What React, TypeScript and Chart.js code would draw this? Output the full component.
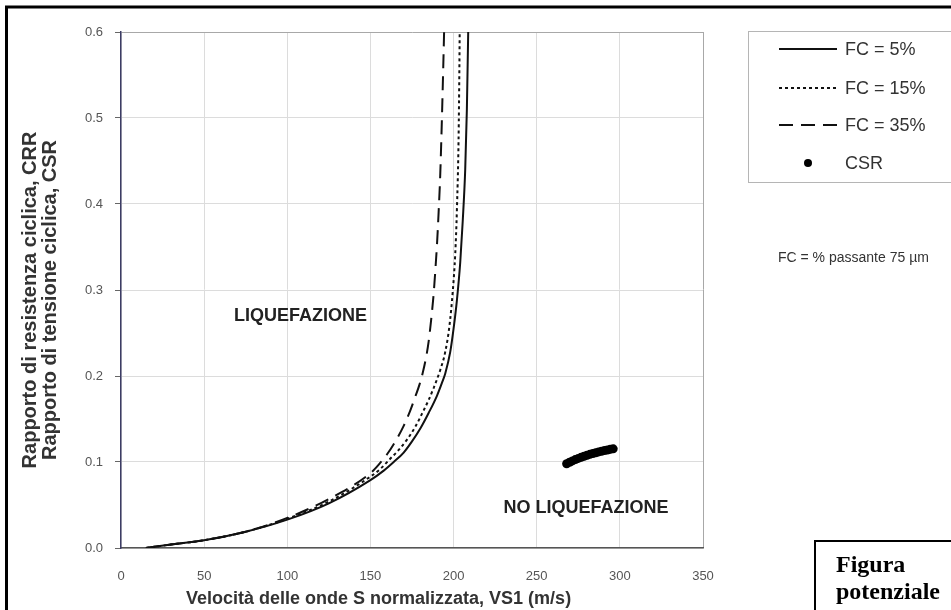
import { useEffect, useRef } from "react";
import { Chart, registerables } from "chart.js";

Chart.register(...registerables);

// ---- data ----
const vs1Fc5 = [15, 30, 50, 75, 100, 125, 150, 158, 164, 170, 175, 180, 185, 190, 193, 195, 198, 200, 202, 204, 205.5, 207, 208, 208.8, 209.1];
const crrFc5 = [0.0, 0.004, 0.009, 0.019, 0.033, 0.052, 0.079, 0.09, 0.1, 0.111, 0.124, 0.139, 0.157, 0.177, 0.192, 0.203, 0.228, 0.255, 0.288, 0.332, 0.38, 0.44, 0.51, 0.6, 0.63];

const vs1Fc15 = [15, 30, 50, 75, 100, 125, 150, 156, 162, 167, 172, 177, 182, 185, 188, 190, 192, 195, 197.5, 199.5, 201, 202, 203, 203.5, 203.8];
const crrFc15 = [0.0, 0.004, 0.009, 0.019, 0.034, 0.054, 0.083, 0.092, 0.104, 0.114, 0.126, 0.141, 0.16, 0.172, 0.186, 0.196, 0.207, 0.228, 0.258, 0.298, 0.342, 0.393, 0.475, 0.56, 0.63];

const vs1Fc35 = [15, 30, 50, 75, 100, 125, 150, 155, 160, 165, 170, 174, 177, 179.5, 181.5, 183.5, 185, 186.5, 188, 189, 190, 191, 192, 193, 193.8, 194.3, 194.6];
const crrFc35 = [0.0, 0.004, 0.009, 0.019, 0.035, 0.057, 0.087, 0.097, 0.109, 0.124, 0.142, 0.16, 0.176, 0.19, 0.204, 0.222, 0.24, 0.265, 0.295, 0.322, 0.352, 0.39, 0.435, 0.5, 0.56, 0.6, 0.63];

const vs1Csr = [268, 269.75, 271.5, 273.25, 275, 276.75, 278.5, 280.25, 282, 283.75, 285.5, 287.25, 289, 290.75, 292.5, 294.25, 296];
const csrValues = [0.098, 0.0997, 0.1013, 0.1028, 0.1042, 0.1055, 0.1067, 0.1078, 0.1089, 0.1099, 0.1108, 0.1117, 0.1125, 0.1133, 0.114, 0.1147, 0.1153];

const xTickValues = [0, 50, 100, 150, 200, 250, 300, 350];
const yTickValues = [0, 0.1, 0.2, 0.3, 0.4, 0.5, 0.6];

const legendLabels = ["FC = 5%", "FC = 15%", "FC = 35%", "CSR"];
const xTitle = "Velocità delle onde S normalizzata, VS1 (m/s)";
const yTitleLines = ["Rapporto di resistenza ciclica, CRR", "Rapporto di tensione ciclica, CSR"];
const noteText = "FC = % passante 75 \u00b5m";
const zoneLabels = ["LIQUEFAZIONE", "NO LIQUEFAZIONE"];
const zoneAt = [
  [108, 0.27],
  [279.6, 0.046],
];
const figureLines = ["Figura", "potenziale"];

const SANS = '"Liberation Sans", Arial, sans-serif';
const SERIF = '"Liberation Serif", "Times New Roman", serif';

const zip = (xs: number[], ys: number[]) => xs.map((x, i) => ({ x, y: ys[i] }));

const DASH_DOT = [3, 3];
const DASH_LONG = [14, 8];

const decorPlugin = {
  id: "decor",
  afterDraw(chart: any) {
    const { ctx } = chart;
    const xs = chart.scales.x;
    const ys = chart.scales.y;
    ctx.save();

    // outer document frame
    ctx.strokeStyle = "#000";
    ctx.lineWidth = 3;
    ctx.setLineDash([]);
    ctx.beginPath();
    ctx.moveTo(6.5, 610);
    ctx.lineTo(6.5, 7);
    ctx.lineTo(951, 7);
    ctx.stroke();

    // figure caption box
    ctx.lineWidth = 2;
    ctx.beginPath();
    ctx.moveTo(951, 541);
    ctx.lineTo(815, 541);
    ctx.lineTo(815, 610);
    ctx.stroke();
    ctx.fillStyle = "#000";
    ctx.font = `bold 24px ${SERIF}`;
    ctx.textAlign = "left";
    ctx.textBaseline = "alphabetic";
    ctx.fillText(figureLines[0], 836, 572);
    ctx.fillText(figureLines[1], 836, 599);

    // legend box
    ctx.strokeStyle = "#b5b5b5";
    ctx.lineWidth = 1;
    ctx.strokeRect(748.5, 31.5, 260, 151);

    const rowY = [49, 88, 125, 163];
    const dashes = [[], DASH_DOT, DASH_LONG];
    ctx.strokeStyle = "#111";
    ctx.lineWidth = 2;
    for (let i = 0; i < 3; i++) {
      ctx.setLineDash(dashes[i]);
      ctx.beginPath();
      ctx.moveTo(779, rowY[i]);
      ctx.lineTo(837, rowY[i]);
      ctx.stroke();
    }
    ctx.setLineDash([]);
    ctx.fillStyle = "#000";
    ctx.beginPath();
    ctx.arc(808, 163, 4, 0, Math.PI * 2);
    ctx.fill();

    ctx.fillStyle = "#333";
    ctx.font = `18px ${SANS}`;
    ctx.textBaseline = "middle";
    for (let i = 0; i < 4; i++) {
      ctx.fillText(legendLabels[i], 845, rowY[i] + 1);
    }

    // note
    ctx.font = `14px ${SANS}`;
    ctx.textBaseline = "alphabetic";
    ctx.fillText(noteText, 778, 262);

    // zone labels
    ctx.fillStyle = "#222";
    ctx.font = `bold 18px ${SANS}`;
    ctx.textAlign = "center";
    ctx.textBaseline = "middle";
    for (let i = 0; i < zoneLabels.length; i++) {
      ctx.fillText(zoneLabels[i], xs.getPixelForValue(zoneAt[i][0]), ys.getPixelForValue(zoneAt[i][1]));
    }

    // axis titles
    ctx.fillStyle = "#333";
    ctx.font = `bold 18px ${SANS}`;
    ctx.textAlign = "left";
    ctx.textBaseline = "alphabetic";
    ctx.fillText(xTitle, 186, 604);

    ctx.font = `bold 20px ${SANS}`;
    ctx.textAlign = "center";
    ctx.textBaseline = "middle";
    const cy = 300;
    const titleX = [30, 50];
    for (let i = 0; i < 2; i++) {
      ctx.save();
      ctx.translate(titleX[i], cy);
      ctx.rotate(-Math.PI / 2);
      ctx.fillText(yTitleLines[i], 0, 0);
      ctx.restore();
    }

    ctx.restore();
  },
};

export default function App() {
  const canvasRef = useRef<HTMLCanvasElement | null>(null);

  useEffect(() => {
    if (!canvasRef.current) return;
    const curveBase = {
      showLine: true,
      pointRadius: 0,
      pointHoverRadius: 0,
      borderColor: "#111",
      backgroundColor: "#111",
      cubicInterpolationMode: "monotone" as const,
      fill: false,
    };
    const chart = new Chart(canvasRef.current, {
      type: "scatter",
      data: {
        datasets: [
          { ...curveBase, label: legendLabels[0], data: zip(vs1Fc5, crrFc5), borderWidth: 2 },
          { ...curveBase, label: legendLabels[1], data: zip(vs1Fc15, crrFc15), borderWidth: 2, borderDash: DASH_DOT },
          { ...curveBase, label: legendLabels[2], data: zip(vs1Fc35, crrFc35), borderWidth: 2, borderDash: DASH_LONG },
          {
            label: legendLabels[3],
            data: zip(vs1Csr, csrValues),
            showLine: false,
            pointRadius: 4.5,
            pointBackgroundColor: "#000",
            pointBorderColor: "#000",
            pointBorderWidth: 0,
          },
        ],
      },
      options: {
        responsive: false,
        animation: false,
        events: [],
        layout: { padding: { left: 0, right: 248, top: 32, bottom: 0 } },
        plugins: {
          legend: { display: false },
          tooltip: { enabled: false },
          title: { display: false },
        },
        scales: {
          x: {
            type: "linear",
            min: 0,
            max: 350,
            afterFit: (s: any) => {
              s.height = 62;
            },
            afterBuildTicks: (s: any) => {
              s.ticks = xTickValues.map((v) => ({ value: v }));
            },
            ticks: {
              color: "#555",
              font: { family: SANS, size: 13 },
              padding: 21,
              callback: (v: any) => String(v),
            },
            grid: {
              drawTicks: false,
              color: (c: any) => (c.tick && c.tick.value === 350 ? "#a8a8a8" : "#dcdcdc"),
              lineWidth: 1,
            },
            border: { color: "#555", width: 1.5 },
          },
          y: {
            type: "linear",
            min: 0,
            max: 0.6,
            afterFit: (s: any) => {
              s.width = 121;
            },
            afterBuildTicks: (s: any) => {
              s.ticks = yTickValues.map((v) => ({ value: v }));
            },
            ticks: {
              color: "#555",
              font: { family: SANS, size: 13 },
              padding: 12,
              callback: (v: any) => Number(v).toFixed(1),
            },
            grid: {
              drawTicks: true,
              tickLength: 6,
              tickColor: "#666",
              color: (c: any) => (c.tick && Math.abs(c.tick.value - 0.6) < 1e-9 ? "#a8a8a8" : "#dcdcdc"),
              lineWidth: 1,
            },
            border: { color: "#3c3c64", width: 1.5 },
          },
        },
      },
      plugins: [decorPlugin],
    });
    return () => chart.destroy();
  }, []);

  return (
    <div style={{ position: "absolute", left: 0, top: 0, width: 951, height: 610, background: "#fff" }}>
      <canvas ref={canvasRef} width={951} height={610} style={{ display: "block", width: 951, height: 610 }} />
    </div>
  );
}
